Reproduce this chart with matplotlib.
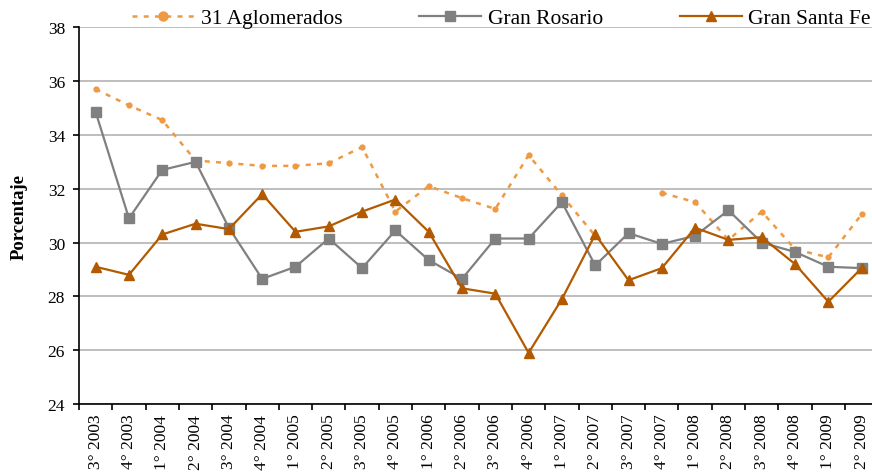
import matplotlib
matplotlib.use("Agg")
import matplotlib.pyplot as plt
import numpy as np

plt.rcParams['font.family'] = ['Liberation Serif', 'DejaVu Serif']

trimestres = ['3° 2003', '4° 2003', '1° 2004', '2° 2004', '3° 2004', '4° 2004',
              '1° 2005', '2° 2005', '3° 2005', '4° 2005', '1° 2006', '2° 2006',
              '3° 2006', '4° 2006', '1° 2007', '2° 2007', '3° 2007', '4° 2007',
              '1° 2008', '2° 2008', '3° 2008', '4° 2008', '1° 2009', '2° 2009']

# 3° 2007 sin dato para 31 aglomerados
aglomerados = [35.7, 35.1, 34.55, 33.05, 32.95, 32.85, 32.85, 32.95, 33.55, 31.15,
               32.1, 31.65, 31.25, 33.25, 31.75, 30.25, np.nan, 31.85,
               31.5, 30.1, 31.15, 29.75, 29.45, 31.05]
rosario = [34.85, 30.9, 32.7, 33.0, 30.55, 28.65, 29.1, 30.15, 29.05, 30.45,
           29.35, 28.65, 30.15, 30.15, 31.5, 29.15, 30.35, 29.95,
           30.25, 31.2, 30.0, 29.65, 29.1, 29.05]
santa_fe = [29.1, 28.8, 30.3, 30.7, 30.5, 31.8, 30.4, 30.6, 31.15, 31.6,
            30.4, 28.3, 28.1, 25.9, 27.9, 30.3, 28.6, 29.05,
            30.55, 30.1, 30.2, 29.2, 27.8, 29.05]

x = np.arange(len(trimestres))

fig = plt.figure(figsize=(8.72, 4.77), dpi=100)
ax = fig.add_axes([79 / 872, 1 - 405 / 477, (878.3 - 79) / 872, (405 - 28.3) / 477])

ax.plot(x, aglomerados, color='#EE9A45', lw=1.8, ls=(0, (2, 2.5)),
        marker='o', ms=3.5, label='31 Aglomerados')
ax.plot(x, rosario, color='#808080', lw=1.6, marker='s', ms=6.5,
        label='Gran Rosario')
ax.plot(x, santa_fe, color='#B35A00', lw=1.6, marker='^', ms=7.5,
        label='Gran Santa Fe')

ax.set_ylim(24, 38)
ax.set_yticks(np.arange(24, 39, 2))
ax.set_xlim(-0.5, len(trimestres) - 0.5)
ax.set_xticks(np.arange(-0.5, len(trimestres), 1))
ax.set_xticklabels([])
ax.set_xticks(x, minor=True)
ax.set_xticklabels(trimestres, minor=True, rotation=90, fontsize=12.5)
ax.tick_params(axis='x', which='minor', length=0, pad=7)
ax.tick_params(axis='x', which='major', length=4, width=1.2, direction='out')
ax.tick_params(axis='y', length=4, width=1.2, direction='out', pad=6, labelsize=12.5)

ax.grid(axis='y', color='#b3b3b3', lw=1.2)
ax.set_axisbelow(True)
for s in ['top', 'right']:
    ax.spines[s].set_visible(False)
for s in ['left', 'bottom']:
    ax.spines[s].set_linewidth(1.2)

ax.set_ylabel('Porcentaje', fontsize=13.5, fontweight='bold', labelpad=14.5)

leg = fig.legend(loc='center left', bbox_to_anchor=(132 / 872, 1 - 19 / 477),
                 ncol=3, frameon=False, fontsize=15.5, handlelength=2.9,
                 handletextpad=0.3, columnspacing=3.55, borderpad=0,
                 borderaxespad=0)
leg.legend_handles[0].set_markersize(6.5)

fig.savefig('out.png', dpi=100)
